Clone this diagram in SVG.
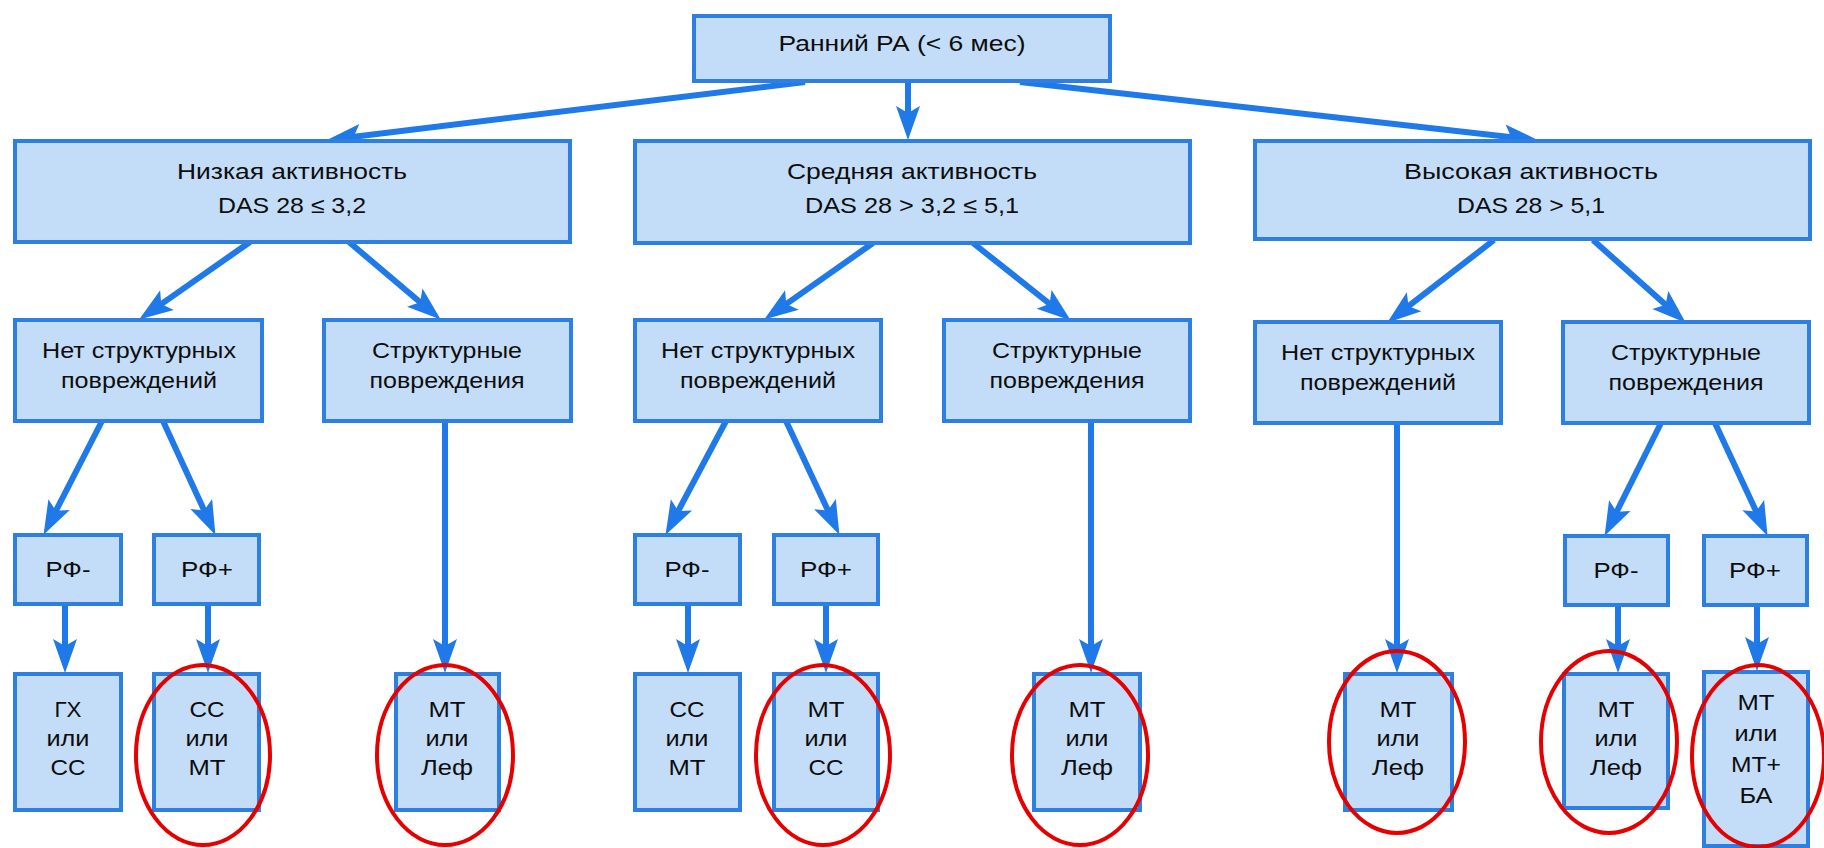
<svg xmlns="http://www.w3.org/2000/svg" width="1824" height="848" viewBox="0 0 1824 848">
<style>
.box{fill:#c3ddf8;stroke:#2d7fe2;stroke-width:4}
.t{font-family:"Liberation Sans",Arial,sans-serif;font-size:22px;fill:#0d0d0d;text-anchor:middle}
.c line{stroke:#1f79e8;stroke-width:6;stroke-linecap:butt;marker-end:url(#ah)}
.r{fill:none;stroke:#e60000;stroke-width:4}
</style>
<defs>
<marker id="ah" markerUnits="userSpaceOnUse" markerWidth="38" markerHeight="26" refX="23" refY="13" orient="auto">
<path d="M36,13 L2,1 L9,13 L2,25 Z" fill="#1f79e8"/>
</marker>
</defs>
<rect width="1824" height="848" fill="#ffffff"/>

<g class="c" id="connectors">
<line x1="805" y1="82" x2="339.9" y2="138.5"/>
<line x1="908" y1="82" x2="908" y2="127"/>
<line x1="1020" y1="82" x2="1525.1" y2="138.7"/>
<line x1="250" y1="242" x2="149.8" y2="312.1"/>
<line x1="349" y1="242" x2="430.8" y2="311.2"/>
<line x1="873" y1="243" x2="774.8" y2="312.1"/>
<line x1="973" y1="243" x2="1060.6" y2="312.5"/>
<line x1="1494" y1="240" x2="1397.5" y2="314.7"/>
<line x1="1593" y1="240" x2="1676" y2="314"/>
<line x1="102" y1="421" x2="49.5" y2="523.3"/>
<line x1="163" y1="421" x2="210" y2="523.1"/>
<line x1="445" y1="421" x2="445" y2="660"/>
<line x1="726" y1="421" x2="671.6" y2="523.4"/>
<line x1="786" y1="421" x2="833.9" y2="523.1"/>
<line x1="1091" y1="421" x2="1091" y2="660"/>
<line x1="1397" y1="423" x2="1397" y2="660"/>
<line x1="1661" y1="423" x2="1610.4" y2="524.3"/>
<line x1="1715" y1="423" x2="1762.1" y2="524.1"/>
<line x1="65" y1="604" x2="65" y2="660"/>
<line x1="208" y1="604" x2="208" y2="660"/>
<line x1="688" y1="604" x2="688" y2="660"/>
<line x1="826" y1="604" x2="826" y2="660"/>
<line x1="1618" y1="605" x2="1618" y2="660"/>
<line x1="1757" y1="605" x2="1757" y2="658"/>
</g>

<g id="root"><rect class="box" x="694" y="16" width="416" height="65"/>
<text class="t" x="902" y="51" textLength="247" lengthAdjust="spacingAndGlyphs">Ранний РА (&lt; 6 мес)</text></g>

<g id="low"><rect class="box" x="15" y="141" width="555" height="101"/>
<text class="t" x="292" y="179" textLength="230" lengthAdjust="spacingAndGlyphs">Низкая активность</text>
<text class="t" x="292" y="213" textLength="148" lengthAdjust="spacingAndGlyphs">DAS 28 ≤ 3,2</text></g>

<g id="mid"><rect class="box" x="635" y="141" width="555" height="102"/>
<text class="t" x="912" y="179" textLength="250" lengthAdjust="spacingAndGlyphs">Средняя активность</text>
<text class="t" x="912" y="213" textLength="214" lengthAdjust="spacingAndGlyphs">DAS 28 &gt; 3,2 ≤ 5,1</text></g>

<g id="high"><rect class="box" x="1255" y="141" width="555" height="98"/>
<text class="t" x="1531" y="179" textLength="254" lengthAdjust="spacingAndGlyphs">Высокая активность</text>
<text class="t" x="1531" y="213" textLength="148" lengthAdjust="spacingAndGlyphs">DAS 28 &gt; 5,1</text></g>

<g id="low-nostruct"><rect class="box" x="15" y="320" width="247" height="101"/>
<text class="t" x="139" y="358" textLength="194" lengthAdjust="spacingAndGlyphs">Нет структурных</text>
<text class="t" x="139" y="388" textLength="156" lengthAdjust="spacingAndGlyphs">повреждений</text></g>

<g id="low-struct"><rect class="box" x="324" y="320" width="247" height="101"/>
<text class="t" x="447" y="358" textLength="150" lengthAdjust="spacingAndGlyphs">Структурные</text>
<text class="t" x="447" y="388" textLength="155" lengthAdjust="spacingAndGlyphs">повреждения</text></g>

<g id="mid-nostruct"><rect class="box" x="635" y="320" width="246" height="101"/>
<text class="t" x="758" y="358" textLength="194" lengthAdjust="spacingAndGlyphs">Нет структурных</text>
<text class="t" x="758" y="388" textLength="156" lengthAdjust="spacingAndGlyphs">повреждений</text></g>

<g id="mid-struct"><rect class="box" x="944" y="320" width="246" height="101"/>
<text class="t" x="1067" y="358" textLength="150" lengthAdjust="spacingAndGlyphs">Структурные</text>
<text class="t" x="1067" y="388" textLength="155" lengthAdjust="spacingAndGlyphs">повреждения</text></g>

<g id="high-nostruct"><rect class="box" x="1255" y="322" width="246" height="101"/>
<text class="t" x="1378" y="360" textLength="194" lengthAdjust="spacingAndGlyphs">Нет структурных</text>
<text class="t" x="1378" y="390" textLength="156" lengthAdjust="spacingAndGlyphs">повреждений</text></g>

<g id="high-struct"><rect class="box" x="1563" y="322" width="246" height="101"/>
<text class="t" x="1686" y="360" textLength="150" lengthAdjust="spacingAndGlyphs">Структурные</text>
<text class="t" x="1686" y="390" textLength="155" lengthAdjust="spacingAndGlyphs">повреждения</text></g>

<g id="low-rfneg"><rect class="box" x="15" y="535" width="106" height="69"/>
<text class="t" x="68" y="577" textLength="45" lengthAdjust="spacingAndGlyphs">РФ-</text></g>
<g id="low-rfpos"><rect class="box" x="154" y="535" width="105" height="69"/>
<text class="t" x="207" y="577" textLength="52" lengthAdjust="spacingAndGlyphs">РФ+</text></g>
<g id="mid-rfneg"><rect class="box" x="635" y="535" width="105" height="69"/>
<text class="t" x="687" y="577" textLength="45" lengthAdjust="spacingAndGlyphs">РФ-</text></g>
<g id="mid-rfpos"><rect class="box" x="774" y="535" width="104" height="69"/>
<text class="t" x="826" y="577" textLength="52" lengthAdjust="spacingAndGlyphs">РФ+</text></g>
<g id="high-rfneg"><rect class="box" x="1565" y="536" width="103" height="69"/>
<text class="t" x="1616" y="578" textLength="45" lengthAdjust="spacingAndGlyphs">РФ-</text></g>
<g id="high-rfpos"><rect class="box" x="1704" y="536" width="103" height="69"/>
<text class="t" x="1755" y="578" textLength="52" lengthAdjust="spacingAndGlyphs">РФ+</text></g>

<g id="r1"><rect class="box" x="15" y="674" width="106" height="136"/>
<text class="t" x="68" y="717" textLength="27" lengthAdjust="spacingAndGlyphs">ГХ</text>
<text class="t" x="68" y="746" textLength="43" lengthAdjust="spacingAndGlyphs">или</text>
<text class="t" x="68" y="775" textLength="35" lengthAdjust="spacingAndGlyphs">СС</text></g>
<g id="r2"><rect class="box" x="154" y="674" width="105" height="136"/>
<text class="t" x="207" y="717" textLength="35" lengthAdjust="spacingAndGlyphs">СС</text>
<text class="t" x="207" y="746" textLength="43" lengthAdjust="spacingAndGlyphs">или</text>
<text class="t" x="207" y="775" textLength="37" lengthAdjust="spacingAndGlyphs">МТ</text></g>
<g id="r3"><rect class="box" x="396" y="674" width="103" height="136"/>
<text class="t" x="447" y="717" textLength="37" lengthAdjust="spacingAndGlyphs">МТ</text>
<text class="t" x="447" y="746" textLength="43" lengthAdjust="spacingAndGlyphs">или</text>
<text class="t" x="447" y="775" textLength="52" lengthAdjust="spacingAndGlyphs">Леф</text></g>
<g id="r4"><rect class="box" x="635" y="674" width="105" height="136"/>
<text class="t" x="687" y="717" textLength="35" lengthAdjust="spacingAndGlyphs">СС</text>
<text class="t" x="687" y="746" textLength="43" lengthAdjust="spacingAndGlyphs">или</text>
<text class="t" x="687" y="775" textLength="37" lengthAdjust="spacingAndGlyphs">МТ</text></g>
<g id="r5"><rect class="box" x="774" y="674" width="104" height="136"/>
<text class="t" x="826" y="717" textLength="37" lengthAdjust="spacingAndGlyphs">МТ</text>
<text class="t" x="826" y="746" textLength="43" lengthAdjust="spacingAndGlyphs">или</text>
<text class="t" x="826" y="775" textLength="35" lengthAdjust="spacingAndGlyphs">СС</text></g>
<g id="r6"><rect class="box" x="1034" y="674" width="106" height="136"/>
<text class="t" x="1087" y="717" textLength="37" lengthAdjust="spacingAndGlyphs">МТ</text>
<text class="t" x="1087" y="746" textLength="43" lengthAdjust="spacingAndGlyphs">или</text>
<text class="t" x="1087" y="775" textLength="52" lengthAdjust="spacingAndGlyphs">Леф</text></g>
<g id="r7"><rect class="box" x="1345" y="674" width="107" height="136"/>
<text class="t" x="1398" y="717" textLength="37" lengthAdjust="spacingAndGlyphs">МТ</text>
<text class="t" x="1398" y="746" textLength="43" lengthAdjust="spacingAndGlyphs">или</text>
<text class="t" x="1398" y="775" textLength="52" lengthAdjust="spacingAndGlyphs">Леф</text></g>
<g id="r8"><rect class="box" x="1564" y="674" width="104" height="134"/>
<text class="t" x="1616" y="717" textLength="37" lengthAdjust="spacingAndGlyphs">МТ</text>
<text class="t" x="1616" y="746" textLength="43" lengthAdjust="spacingAndGlyphs">или</text>
<text class="t" x="1616" y="775" textLength="52" lengthAdjust="spacingAndGlyphs">Леф</text></g>
<g id="r9"><rect class="box" x="1704" y="672" width="104" height="174"/>
<text class="t" x="1756" y="710" textLength="37" lengthAdjust="spacingAndGlyphs">МТ</text>
<text class="t" x="1756" y="741" textLength="43" lengthAdjust="spacingAndGlyphs">или</text>
<text class="t" x="1756" y="772" textLength="50" lengthAdjust="spacingAndGlyphs">МТ+</text>
<text class="t" x="1756" y="803" textLength="33" lengthAdjust="spacingAndGlyphs">БА</text></g>

<g id="highlights">
<ellipse class="r" cx="203" cy="755" rx="67" ry="90"/>
<ellipse class="r" cx="445" cy="755" rx="68" ry="90"/>
<ellipse class="r" cx="823" cy="755" rx="67" ry="90"/>
<ellipse class="r" cx="1080" cy="755" rx="68" ry="90"/>
<ellipse class="r" cx="1397" cy="742" rx="68" ry="91"/>
<ellipse class="r" cx="1609" cy="742" rx="68" ry="91"/>
<ellipse class="r" cx="1758" cy="756" rx="66" ry="91"/>
</g>
</svg>
